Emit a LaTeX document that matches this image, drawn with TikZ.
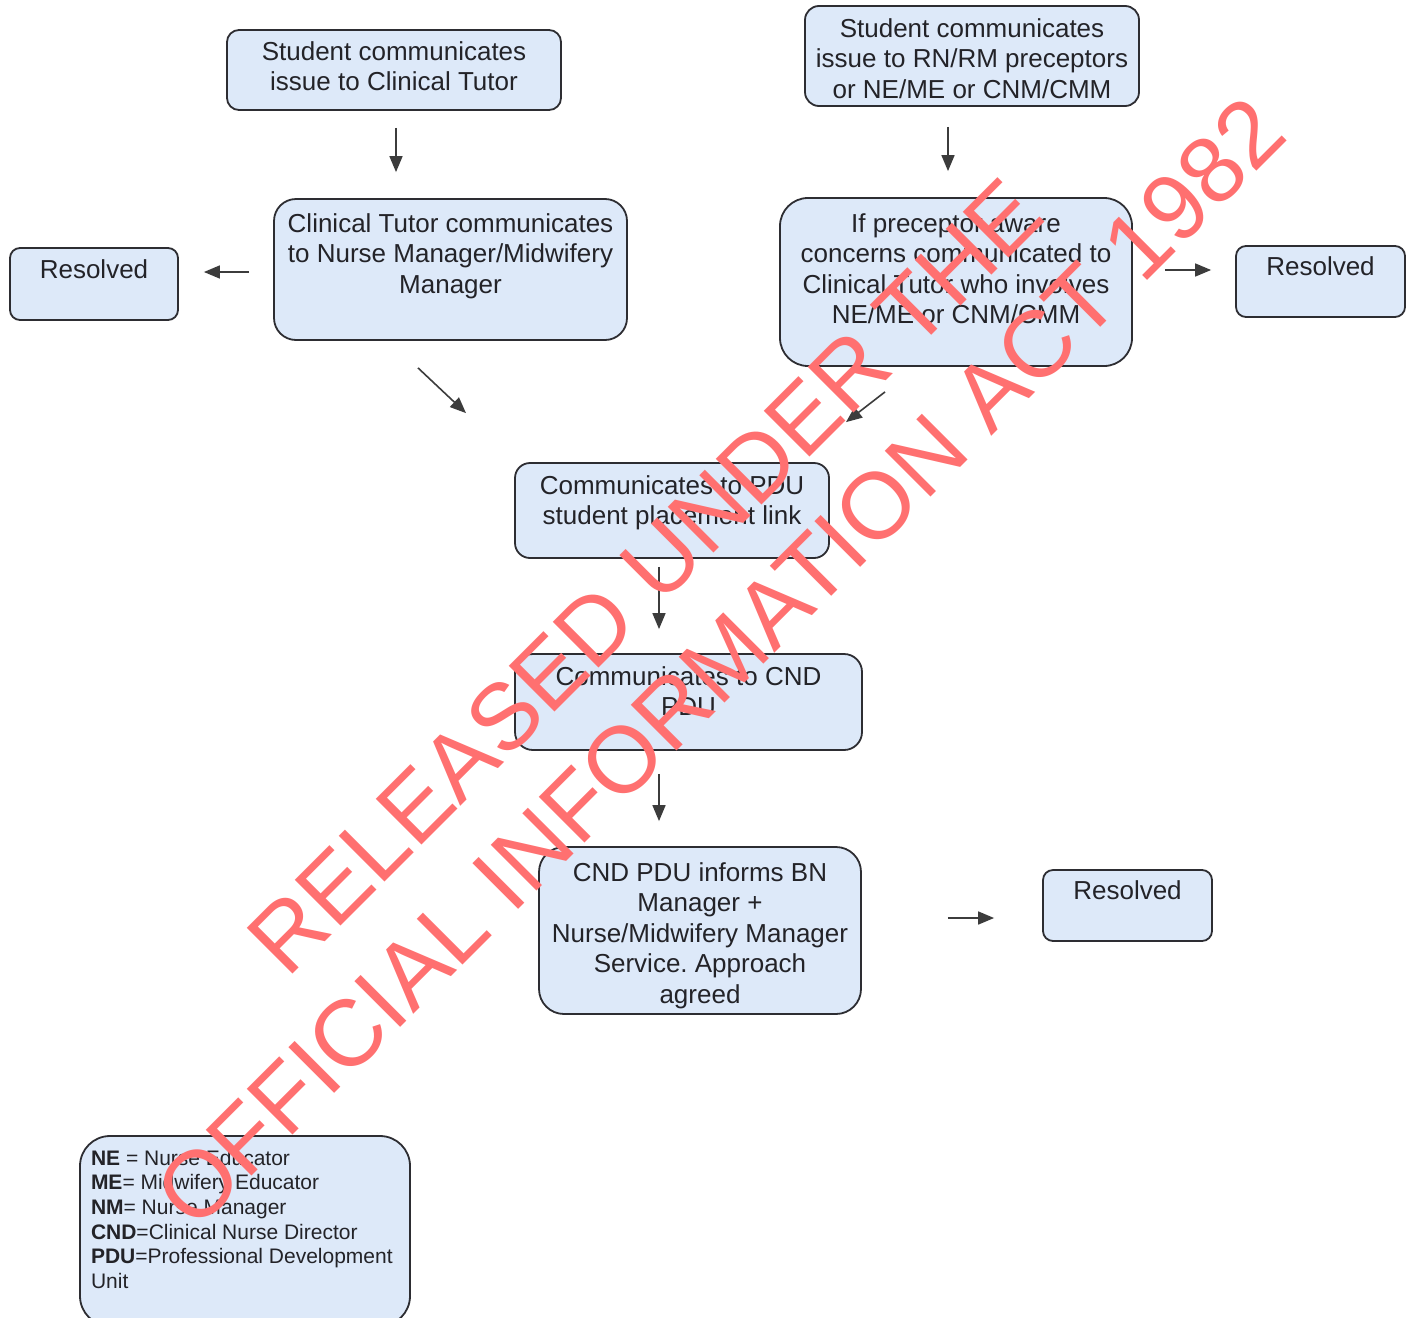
\documentclass[tikz,border=0pt]{standalone}
\usepackage{fontspec}
\setmainfont{Liberation Sans}
\usetikzlibrary{arrows.meta,calc}
\definecolor{boxfill}{RGB}{221,233,249}
\definecolor{boxline}{RGB}{45,45,50}
\definecolor{boxtext}{RGB}{35,35,40}
\definecolor{arrowc}{RGB}{60,60,60}
\definecolor{wmred}{RGB}{255,112,112}
\frenchspacing
\newcommand{\bxt}[4]{\parbox[c][#2pt][t]{#1pt}{\centering\fontsize{26}{30.5}\selectfont\rule{0pt}{#3pt}#4}}
\begin{document}
\begin{tikzpicture}[x=1pt,y=-1pt,
  box/.style={draw=boxline, fill=boxfill, text=boxtext, line width=1.8pt, inner sep=0pt, rounded corners=#1},
  box/.default=12pt,
  arr/.style={draw=arrowc, line width=1.6pt, -{Triangle[length=16pt,width=13pt]}},
  wm/.style={text=wmred, rotate=45, anchor=base west, inner sep=0pt, font=\fontsize{94}{94}\selectfont}]
\clip (0,0) rectangle (1412,1317);
\fill[white] (0,0) rectangle (1412,1317);

\node[box] (A) at (394,70) {\bxt{334}{80}{30}{Student communicates\\issue to Clinical Tutor}};
\node[box=14pt] (B) at (972,56) {\bxt{334}{100}{31}{Student communicates\\issue to RN/RM preceptors\\or NE/ME or CNM/CMM}};
\node[box=22pt] (C) at (450.5,269.5) {\bxt{353}{141}{33}{Clinical Tutor communicates\\to Nurse Manager/Midwifery\\Manager}};
\node[box=10pt] (L) at (94,284) {\bxt{168}{72}{30}{Resolved}};
\node[box=28pt] (D) at (956,282) {\bxt{352}{168}{34}{If preceptor aware\\concerns communicated to\\Clinical Tutor who involves\\NE/ME or CNM/CMM}};
\node[box=10pt] (R) at (1320.5,281.5) {\bxt{169}{71}{29}{Resolved}};
\node[box=15pt] (E) at (672,510.5) {\bxt{314}{95}{31}{Communicates to PDU\\student placement link}};
\node[box=18pt] (F) at (688.5,702) {\bxt{347}{96}{31}{Communicates to CND\\PDU}};
\node[box=25pt] (G) at (700,930.5) {\bxt{322}{167}{34}{CND PDU informs BN\\Manager +\\Nurse/Midwifery Manager\\Service. Approach\\agreed}};
\node[box=10pt] (Rb) at (1127.5,905.5) {\bxt{169}{71}{29}{Resolved}};
\node[box=30pt] (leg) at (245,1231) {\parbox[c][190pt][t]{330pt}{\raggedright\leftskip=11pt\fontsize{21}{24.7}\selectfont\rule{0pt}{29pt}\textbf{NE} = Nurse Educator\\\textbf{ME}= Midwifery Educator\\\textbf{NM}= Nurse Manager\\\textbf{CND}=Clinical Nurse Director\\\textbf{PDU}=Professional Development\\Unit}};

\draw[arr] ($(A.south)+(2,17)$) -- ($(C.north)+(-54.5,-26)$);
\draw[arr] ($(B.south)+(-24,20)$) -- ($(D.north)+(-8,-26)$);
\draw[arr] ($(C.west)+(-24,2.5)$) -- ($(L.east)+(25,-12)$);
\draw[arr] ($(D.east)+(32,-12)$) -- ($(R.west)+(-24,-11.5)$);
\draw[arr] ($(C.south)+(-32.5,27)$) -- ($(E.north)+(-206,-49)$);
\draw[arr] ($(D.south)+(-71,25)$) -- ($(E.north)+(174,-40)$);
\draw[arr] ($(E.south)+(-13,8)$) -- ($(F.north)+(-29.5,-24)$);
\draw[arr] ($(F.south)+(-29.5,23)$) -- ($(G.north)+(-41,-25)$);
\draw[arr] ($(G.east)+(86,-12.5)$) -- ($(Rb.west)+(-48,12.5)$);

\node[wm] (wm1) at (287,980) {RELEASED UNDER THE};
\node[wm] (wm2) at (195,1233) {OFFICIAL INFORMATION ACT 1982};
\end{tikzpicture}
\end{document}
